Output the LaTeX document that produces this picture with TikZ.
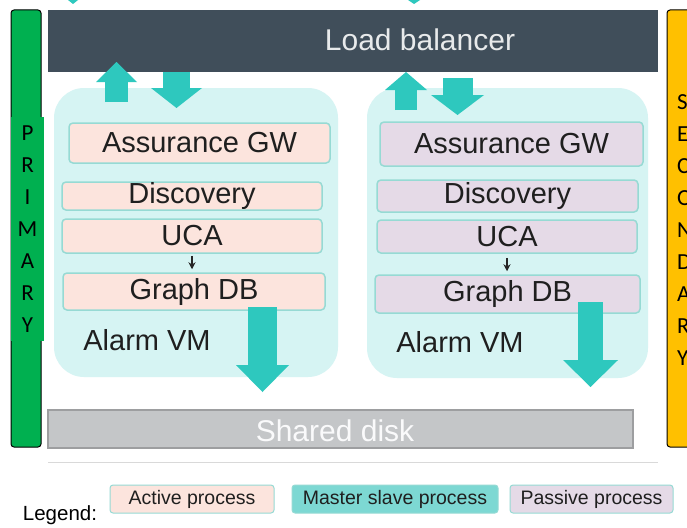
\documentclass[tikz,border=0pt]{standalone}
\usepackage{fontspec}
\setmainfont{Liberation Sans}
\newfontfamily\calfont{Carlito}
\usetikzlibrary{arrows.meta,positioning}
\definecolor{lbdark}{RGB}{64,78,90}
\definecolor{vmteal}{RGB}{214,244,243}
\definecolor{arrowteal}{RGB}{46,200,190}
\definecolor{procborder}{RGB}{150,218,212}
\definecolor{activepink}{RGB}{252,228,221}
\definecolor{passivelilac}{RGB}{229,218,231}
\definecolor{masterteal}{RGB}{125,216,211}
\definecolor{diskgray}{RGB}{196,198,200}
\definecolor{primgreen}{RGB}{0,176,80}
\definecolor{secyellow}{RGB}{255,192,0}
\tikzset{
    % process boxes inside a VM
    proc/.style={
        draw=procborder, line width=1.5pt, rounded corners=4pt,
        inner sep=0pt, text=black!88,
        font=\fontsize{29}{30}\selectfont
    },
    activeproc/.style={proc, fill=activepink},
    passiveproc/.style={proc, fill=passivelilac},
    % legend variants
    legendbox/.style={
        draw=procborder, line width=1pt, rounded corners=3pt,
        inner sep=0pt, minimum height=28pt, text=black!88,
        font=\fontsize{19.5}{20}\selectfont
    },
    vmbox/.style={fill=vmteal, rounded corners=30pt, inner sep=0pt},
    vmlabel/.style={text=black!88, font=\fontsize{29}{30}\selectfont},
    sidebox/.style={draw=black, line width=1pt, rounded corners=3pt, inner sep=0pt},
    sideletters/.style={inner sep=0pt, align=center, font=\calfont\fontsize{23}{32}\selectfont},
}
\tikzset{
    % block arrows: shaft width, head width, head length
    blockarrow/.style n args={3}{line width=#1, arrowteal,
        -{Triangle[width=#2, length=#3, line width=0pt]}},
    smallarrow/.style={line width=1.6pt, black!85, -{Stealth[length=7pt,width=7pt]}},
}

\begin{document}
\begin{tikzpicture}[x=1pt,y=-1pt]
  \clip (0,0) rectangle (687,527);
  \useasboundingbox (0,0) rectangle (687,527);
  \fill[white] (0,0) rectangle (687,527);

  % side labels
  \node[sidebox, fill=primgreen, minimum width=30pt, minimum height=437pt] (prim) at (26,228.5) {};
  \node[sideletters, fill=primgreen, minimum width=33pt, minimum height=224pt] (primtxt) at (27.5,229) {P\\R\\I\\M\\A\\R\\Y};
  \node[sidebox, fill=secyellow, minimum width=60pt, minimum height=437pt] (sec) at (697,228.5) {};
  \node[sideletters, align=left, anchor=west] (sectxt) at (677,230.5) {S\\E\\C\\O\\N\\D\\A\\R\\Y};

  % load balancer
  \node[fill=lbdark, minimum width=610pt, minimum height=62pt, inner sep=0pt] (lb) at (353,41) {};
  \node[text=white!88!lbdark, font=\fontsize{30}{31}\selectfont, inner sep=0pt] (lbtxt) at (420,40) {Load balancer};
  \fill[arrowteal] (68,0) -- (78,0) -- (73,4) -- cycle;
  \fill[arrowteal] (408,0) -- (420,0) -- (414,4) -- cycle;

  % the two alarm VMs
  \node[vmbox, minimum width=284pt, minimum height=289pt] (lvm) at (196,232.5) {};
  \node[vmbox, minimum width=281pt, minimum height=290pt] (rvm) at (507.5,233) {};

  \node[activeproc, minimum width=261pt, minimum height=40pt] (lgw) at (199.5,143) {Assurance GW};
  \node[activeproc, minimum width=260pt, minimum height=28pt] (ldisc) at (192,196) {Discovery};
  \node[activeproc, minimum width=260pt, minimum height=34pt] (luca) at (192,236) {UCA};
  \node[activeproc, minimum width=262pt, minimum height=37pt] (lgdb) at (194,291.5) {Graph DB};
  \node[vmlabel] (lalarm) at (147,340) {Alarm VM};

  \node[passiveproc, minimum width=263pt, minimum height=44pt] (rgw) at (511.5,144) {Assurance GW};
  \node[passiveproc, minimum width=261pt, minimum height=32pt] (rdisc) at (507.5,196) {Discovery};
  \node[passiveproc, minimum width=260pt, minimum height=33pt] (ruca) at (507,236.5) {UCA};
  \node[passiveproc, minimum width=265pt, minimum height=38pt] (rgdb) at (507.5,294) {Graph DB};
  \node[vmlabel] (ralarm) at (460,342) {Alarm VM};

  \draw[smallarrow, shorten <=2pt, shorten >=3pt] (luca.south) -- (luca.south |- lgdb.north);
  \draw[smallarrow, shorten <=4pt, shorten >=3pt] (ruca.south) -- (ruca.south |- rgdb.north);

  % shared disk
  \node[fill=diskgray, draw=diskgray!80!black, line width=1.5pt, minimum width=585pt, minimum height=38pt, inner sep=0pt] (disk) at (340.5,429) {};
  \node[text=white!92!diskgray, font=\fontsize{30}{31}\selectfont, inner sep=0pt] (disktxt) at (335,431) {Shared disk};
  \coordinate (baseL) at (48,462);
  \coordinate (baseR) at (658,462);
  \draw[black!15, line width=1pt] (baseL) -- (baseR);

  % traffic arrows
  \coordinate (lupA) at (116.5,102);  \coordinate (lupB) at (116.5,62);
  \coordinate (ldnA) at (176.5,72);   \coordinate (ldnB) at (176.5,108);
  \coordinate (rupA) at (406,110);    \coordinate (rupB) at (406,72);
  \coordinate (rdnA) at (457.5,78);   \coordinate (rdnB) at (457.5,115);
  \coordinate (lbigA) at (262.5,307); \coordinate (lbigB) at (262.5,392);
  \coordinate (rbigA) at (590.5,302); \coordinate (rbigB) at (590.5,387);
  \draw[blockarrow={23pt}{41pt}{20pt}] (lupA) -- (lupB);
  \draw[blockarrow={27pt}{51pt}{20pt}] (ldnA) -- (ldnB);
  \draw[blockarrow={22pt}{42pt}{18pt}] (rupA) -- (rupB);
  \draw[blockarrow={30pt}{53pt}{20pt}] (rdnA) -- (rdnB);
  \draw[blockarrow={29pt}{53pt}{27pt}] (lbigA) -- (lbigB);
  \draw[blockarrow={25pt}{55pt}{27pt}] (rbigA) -- (rbigB);

  % legend
  \node[font=\fontsize{20.5}{21}\selectfont, inner sep=0pt] (legend) at (60,515) {Legend:};
  \node[legendbox, fill=activepink, minimum width=164pt] (lgact) at (192,499) {Active process};
  \node[legendbox, fill=masterteal, minimum width=206pt] (lgms) at (395,499) {Master slave process};
  \node[legendbox, fill=passivelilac, minimum width=163pt] (lgpas) at (591.5,499) {Passive process};
\end{tikzpicture}
\end{document}
